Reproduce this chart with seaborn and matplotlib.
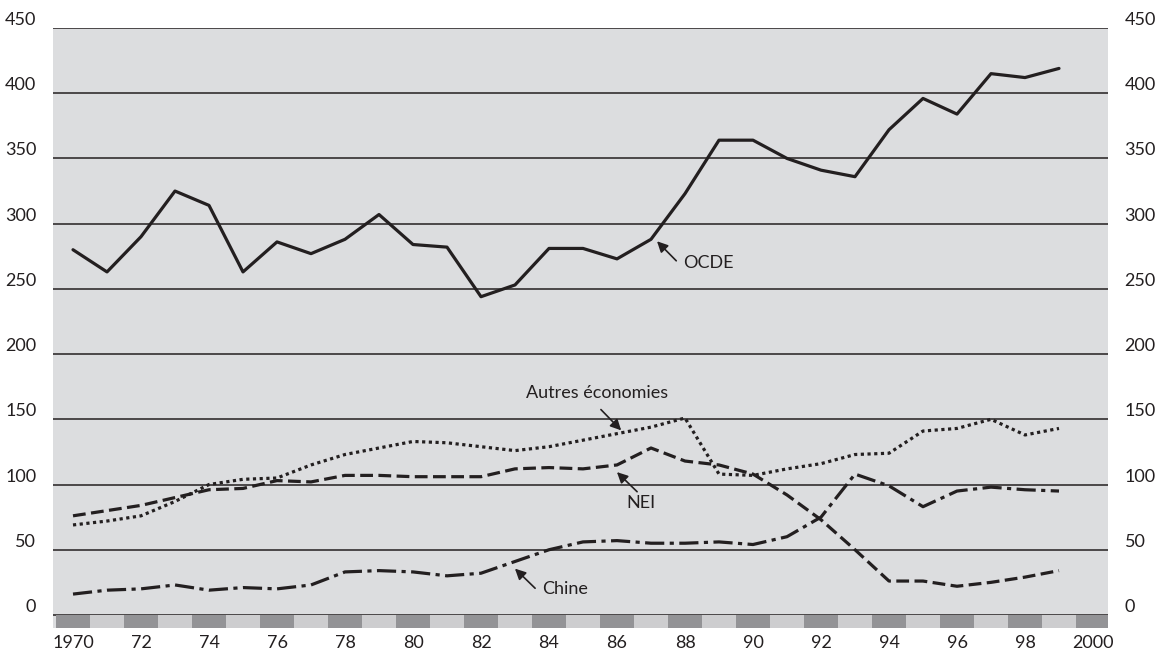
import matplotlib
matplotlib.use("Agg")
import matplotlib.pyplot as plt
import numpy as np
import pandas as pd
import seaborn as sns

# Données
years = list(range(1970, 2000))
ocde = [280, 263, 290, 325, 314, 263, 286, 277, 288, 307, 284, 282, 244, 253, 281,
        281, 273, 288, 323, 364, 364, 350, 341, 336, 372, 396, 384, 415, 412, 419]
autres = [69, 72, 76, 87, 100, 104, 105, 115, 123, 128, 133, 132, 129, 126, 129,
          134, 139, 144, 151, 108, 107, 112, 116, 123, 124, 141, 143, 150, 138, 143]
nei = [76, 80, 84, 90, 96, 97, 103, 102, 107, 107, 106, 106, 106, 112, 113,
       112, 115, 128, 118, 115, 108, 92, 73, 50, 26, 26, 22, 25, 29, 34]
chine = [16, 19, 20, 23, 19, 21, 20, 23, 33, 34, 33, 30, 32, 41, 50,
         56, 57, 55, 55, 56, 54, 60, 75, 108, 99, 83, 95, 98, 96, 95]

series_names = ["OCDE", "Autres économies", "NEI", "Chine"]
tick_years = list(range(1970, 2001, 2))
tick_labels = ["1970"] + [str(y)[2:] for y in tick_years[1:-1]] + ["2000"]
band_years = list(range(1970, 2001))

INK = "#231f20"
FS = 13

sns.set_style("white", {"axes.facecolor": "#dcdddf"})
plt.rcParams["font.family"] = ["Lato", "DejaVu Sans"]

df = pd.DataFrame({
    "annee": years * 4,
    "valeur": ocde + autres + nei + chine,
    "serie": np.repeat(series_names, len(years)),
})

fig = plt.figure(figsize=(11.55, 6.53), dpi=100)
ax = fig.add_axes([53 / 1155, 25 / 653, 1055 / 1155, 600 / 653])

# Bande alternée en bas de l'axe
band_colors = ["#939396" if y % 2 == 0 else "#cdcdcf" for y in band_years]
ax.bar(band_years, 10, bottom=-10, width=1.0, color=band_colors,
       linewidth=0, zorder=3)

# Courbes
sns.lineplot(data=df, x="annee", y="valeur", hue="serie", style="serie",
             palette={s: INK for s in series_names},
             dashes={"OCDE": "", "Autres économies": (1, 1.1),
                     "NEI": (4, 1.7), "Chine": (6, 1.7, 1.3, 1.7)},
             linewidth=2.3, legend=False, ax=ax, zorder=4)
for line in ax.lines:
    line.set_dash_capstyle("butt")

# Axes et grille
ax.set_xlim(1970 - 20 / 34, 1970 + 1035 / 34)
ax.set_ylim(-10, 450)
ax.set_yticks(range(0, 451, 50))
ax.set_xticks(tick_years)
ax.set_xticklabels(tick_labels)
ax.grid(axis="y", color=INK, linewidth=1.1)
ax.set_axisbelow(True)
for sp in ax.spines.values():
    sp.set_visible(False)
ax.tick_params(axis="both", length=0, labelsize=FS, colors=INK)
ax.tick_params(axis="y", labelright=True, pad=12)
ax.tick_params(axis="x", pad=5)
for tick in ax.yaxis.get_major_ticks():
    tick.label1.set_va("bottom")
    tick.label2.set_va("bottom")
ax.set_xlabel("")
ax.set_ylabel("")

# Annotations
arrow = dict(arrowstyle="-|>", color=INK, lw=1.2, mutation_scale=16)
ax.annotate("", xy=(1987.12, 288), xytext=(1987.8, 270), arrowprops=arrow)
ax.text(1987.95, 270, "OCDE", fontsize=FS, color=INK, ha="left", va="center")

ax.annotate("", xy=(1986.18, 140), xytext=(1985.47, 159), arrowprops=arrow)
ax.text(1985.4, 170, "Autres économies", fontsize=FS, color=INK,
        ha="center", va="center")

ax.annotate("", xy=(1985.94, 111), xytext=(1986.65, 93), arrowprops=arrow)
ax.text(1986.7, 86, "NEI", fontsize=FS, color=INK, ha="center", va="center")

ax.annotate("", xy=(1982.94, 37), xytext=(1983.65, 19), arrowprops=arrow)
ax.text(1983.8, 20, "Chine", fontsize=FS, color=INK, ha="left", va="center")

fig.savefig("out.png", dpi=100)
